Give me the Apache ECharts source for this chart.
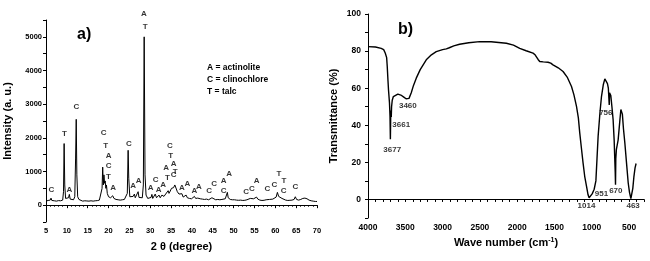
<!DOCTYPE html>
<html>
<head>
<meta charset="utf-8">
<script src="https://cdn.jsdelivr.net/npm/echarts@6/dist/echarts.min.js"></script>
<style>
  html, body { margin: 0; background: #fff; }
  #chart { width: 650px; height: 261px; }
</style>
</head>
<body>
<div id="chart"></div>
<script>
// a) XRD pattern
const xrdAngle = [
  5.0, 5.5, 6.0, 6.2, 6.4, 7.0, 7.5, 8.0, 8.5, 9.0, 9.2, 9.35, 9.5, 9.7, 10.0, 10.4, 10.6, 10.8,
  11.2, 11.6, 11.9, 12.1, 12.25, 12.4, 12.6, 12.9, 13.3, 13.8, 14.3, 14.8, 15.3, 15.8, 16.3, 16.8,
  17.3, 17.8, 18.2, 18.45, 18.6, 18.75, 18.9, 19.05, 19.2, 19.35, 19.5, 19.7, 20.0, 20.5, 21.0,
  21.3, 21.8, 22.3, 22.8, 23.3, 23.8, 24.2, 24.5, 24.7, 24.85, 25.1, 25.5, 25.9, 26.2, 26.4, 26.8,
  27.1, 27.3, 27.7, 28.1, 28.35, 28.55, 28.75, 29.0, 29.4, 29.8, 30.2, 30.4, 30.6, 31.0, 31.2,
  31.5, 31.9, 32.1, 32.4, 32.8, 33.0, 33.3, 33.7, 34.0, 34.3, 34.5, 34.8, 35.1, 35.4, 35.6, 35.9,
  36.2, 36.5, 36.9, 37.3, 37.6, 37.9, 38.3, 38.6, 38.9, 39.4, 39.9, 40.3, 40.6, 40.9, 41.4, 41.7,
  42.0, 42.5, 43.0, 43.5, 44.0, 44.4, 44.8, 45.2, 45.7, 46.2, 46.7, 47.2, 47.6, 48.0, 48.3, 48.5,
  48.7, 49.2, 49.7, 50.2, 50.7, 51.2, 51.7, 52.2, 52.7, 53.2, 53.6, 54.0, 54.4, 54.8, 55.2, 55.5,
  55.8, 56.3, 56.8, 57.3, 57.8, 58.2, 58.6, 59.0, 59.4, 59.8, 60.2, 60.5, 60.8, 61.2, 61.6, 62.0,
  62.5, 63.0, 63.5, 64.0, 64.5, 64.8, 65.1, 65.6, 66.1, 66.6, 67.1, 67.6, 68.1, 68.6, 69.1, 69.6, 70.0
];
const xrdIntensity = [
  120, 140, 150, 210, 140, 130, 120, 135, 130, 150, 400, 1830, 600, 200, 160, 220, 320, 180,
  150, 160, 250, 1400, 2550, 900, 250, 170, 140, 120, 130, 125, 120, 130, 120, 130,
  135, 150, 200, 500, 1130, 600, 900, 650, 720, 500, 600, 350, 250, 220, 280,
  200, 170, 160, 150, 160, 170, 200, 350, 1630, 800, 250, 200, 260, 330, 220, 210,
  400, 230, 200, 220, 600, 5000, 900, 300, 200, 190, 230, 320, 200, 240, 330,
  220, 250, 300, 220, 300, 350, 260, 330, 300, 430, 350, 420, 500, 450, 520, 600,
  560, 400, 330, 280, 340, 240, 230, 300, 220, 200, 190, 200, 260, 200, 210, 250,
  190, 180, 170, 180, 160, 190, 220, 180, 160, 170, 160, 170, 200, 190, 220, 380,
  220, 170, 160, 160, 150, 145, 150, 140, 145, 160, 180, 200, 220, 190, 200, 240,
  180, 150, 140, 145, 160, 190, 170, 200, 180, 210, 240, 380, 260, 230, 200, 180,
  150, 140, 145, 150, 170, 250, 170, 150, 170, 200, 210, 190, 150, 130, 120, 110, 110
];
const phaseLabel = [
  "C", "T", "A", "C", "C", "T", "A", "C", "T", "A", "C", "A", "A", "A", "T",
  "A", "C", "A", "A", "A", "T", "C", "T", "A", "C", "T", "A", "A", "A", "A",
  "C", "C", "A", "C", "A", "C", "C", "A", "C", "C", "T", "T", "C", "C"
];
const phaseAngle = [
  6.3, 9.4, 10.6, 12.3, 18.8, 19.3, 20.0, 20.0, 20.0, 21.1, 24.9, 25.9, 27.2, 28.5, 28.8,
  30.1, 31.3, 32.0, 33.1, 33.8, 34.1, 34.7, 34.9, 35.6, 35.6, 36.0, 37.6, 38.9, 40.6, 41.7,
  44.1, 45.3, 47.6, 47.6, 48.9, 53.0, 54.4, 55.5, 58.1, 59.8, 60.9, 62.1, 62.0, 64.8
];
const phaseHeight = [
  446, 2134, 446, 2929, 2155, 1777, 1479, 1161, 833, 518, 1815, 565, 714, 5675, 5310,
  518, 744, 446, 595, 1113, 804, 1777, 1458, 1220, 893, 982, 518, 637, 438, 548,
  417, 637, 714, 438, 934, 387, 488, 714, 488, 595, 943, 735, 438, 557
];
const xrdYTicks = [0, 1000, 2000, 3000, 4000, 5000];
const phaseLegend = ["A = actinolite", "C = clinochlore", "T = talc"];

// b) FTIR spectrum
const ftirWave = [
  4000, 3900, 3823, 3790, 3769, 3750, 3742, 3732, 3725, 3712, 3705, 3700, 3696, 3692, 3688, 3684,
  3675, 3660, 3640, 3600, 3560, 3520, 3490, 3470, 3450, 3420, 3390, 3353, 3300, 3219, 3150, 3085,
  3000, 2950, 2935, 2925, 2910, 2850, 2772, 2650, 2503, 2350, 2145, 2050, 1966, 1880, 1788, 1760,
  1742, 1720, 1698, 1650, 1587, 1550, 1520, 1450, 1385, 1330, 1272, 1240, 1205, 1180, 1161, 1140,
  1117, 1095, 1071, 1050, 1036, 1015, 995, 983, 968, 958, 945, 930, 915, 890, 870, 845, 825, 805,
  790, 778, 770, 766, 762, 755, 745, 730, 714, 700, 692, 686, 682, 678, 670, 660, 647, 625, 610,
  601, 590, 575, 557, 535, 512, 495, 476, 463, 450, 436, 420, 406
];
const ftirTrans = [
  82.4, 82.2, 81.5, 80.8, 79.0, 76.5, 71.7, 64, 59, 52, 45, 32.5, 44, 48, 44.5, 50,
  53.5, 55.5, 56.5, 56.8, 56.3, 55.2, 54.3, 54, 54.5, 57.5, 61.5, 65.4, 70, 75.3, 78, 79.7,
  80.8, 81.2, 80.6, 81.3, 81.8, 82.8, 83.7, 84.5, 85.1, 85, 84.2, 83.2, 81.5, 80.2, 78.9, 78,
  77, 75.5, 74.4, 74.2, 74, 73.5, 72.6, 71, 69, 66, 60.9, 56.5, 50.2, 44, 35.8, 28,
  19.7, 12.5, 7.2, 2.5, 0.9, 1.5, 3, 3.6, 5.5, 6.3, 10, 22, 34, 47, 55.5, 62, 65, 64.5,
  62.5, 60, 59, 51, 57.5, 58, 56, 50, 43, 32, 22, 15, 8, 22, 27, 28, 32, 42, 48.5,
  49.3, 46, 38, 30.6, 20, 9, 4, 0.4, 1, 6, 12, 17, 19.4
];
const bandLabel = ["3677", "3661", "3460", "756", "1014", "951", "670", "463"];
const bandWave = [3675, 3554, 3466, 812, 1071, 870, 678, 446];
const bandTrans = [26.9, 40, 50.5, 46.9, -3.2, 3.2, 4.5, -3.6];
const ftirXTicks = [4000, 3500, 3000, 2500, 2000, 1500, 1000, 500];
const ftirYTicks = [0, 20, 40, 60, 80, 100];

const FONT = "'Liberation Sans', Arial, sans-serif";
const chart = echarts.init(document.getElementById("chart"), null, { renderer: "canvas" });

const lineAxis = { show: true, lineStyle: { color: "#000", width: 1 } };
const nameStyle = { fontFamily: FONT, fontWeight: "bold", fontSize: 11, color: "#000" };
const tickLabel = (size) => ({ fontFamily: FONT, fontWeight: "bold", fontSize: size, color: "#000" });

const textLabels = (xs, ys, texts) => xs.map((x, i) => [x, ys[i], texts[i]]);

const option = {
  animation: false,
  backgroundColor: "#fff",
  title: [
    { text: "a)", left: 72, top: 22, textStyle: { fontFamily: FONT, fontWeight: "bold", fontSize: 16, color: "#000" } },
    { text: "b)", left: 393, top: 17, textStyle: { fontFamily: FONT, fontWeight: "bold", fontSize: 16, color: "#000" } },
  ],
  graphic: [
    {
      type: "text",
      left: 207,
      top: 62,
      style: {
        text: phaseLegend.join("\n"),
        font: "bold 8.5px " + FONT,
        lineHeight: 12,
        fill: "#000",
      },
    },
  ],
  grid: [
    { left: 46, right: 333, top: 20, bottom: 39 },
    { left: 368, right: 6, top: 14, bottom: 43 },
  ],
  xAxis: [
    {
      gridIndex: 0,
      type: "value",
      min: 5,
      max: 70,
      interval: 5,
      name: "2 θ (degree)",
      nameLocation: "middle",
      nameGap: 19,
      nameTextStyle: nameStyle,
      axisLine: lineAxis,
      axisTick: { show: true, length: 3, lineStyle: { color: "#000" } },
      minorTick: { show: true, splitNumber: 5, length: 1.5, lineStyle: { color: "#000" } },
      axisLabel: { ...tickLabel(7.5), margin: 5 },
      splitLine: { show: false },
    },
    {
      gridIndex: 1,
      type: "value",
      inverse: true,
      min: 300,
      max: 4000,
      interval: 100,
      name: "Wave number (cm{sup|-1})",
      nameLocation: "middle",
      nameGap: 17,
      nameTextStyle: {
        ...nameStyle,
        rich: { sup: { fontFamily: FONT, fontWeight: "bold", fontSize: 7, verticalAlign: "top", padding: [0, 0, 6, 0] } },
      },
      axisLine: lineAxis,
      axisTick: { show: true, length: 2.5, lineStyle: { color: "#000" } },
      axisLabel: {
        ...tickLabel(8.5),
        margin: 5,
        formatter: (v) => (ftirXTicks.includes(v) ? String(v) : ""),
      },
      splitLine: { show: false },
    },
  ],
  yAxis: [
    {
      gridIndex: 0,
      type: "value",
      min: -500,
      max: 5500,
      interval: 500,
      name: "Intensity (a. u.)",
      nameLocation: "middle",
      nameGap: 33,
      nameTextStyle: nameStyle,
      axisLine: lineAxis,
      axisTick: { show: true, length: 3, lineStyle: { color: "#000" } },
      axisLabel: {
        ...tickLabel(7.5),
        margin: 4,
        formatter: (v) => (xrdYTicks.includes(v) ? String(v) : ""),
      },
      splitLine: { show: false },
    },
    {
      gridIndex: 1,
      type: "value",
      min: -10,
      max: 100,
      interval: 10,
      name: "Transmittance (%)",
      nameLocation: "middle",
      nameGap: 29,
      nameTextStyle: nameStyle,
      axisLine: lineAxis,
      axisTick: { show: true, length: 3, lineStyle: { color: "#000" } },
      axisLabel: {
        ...tickLabel(8.5),
        margin: 7,
        formatter: (v) => (ftirYTicks.includes(v) ? String(v) : ""),
      },
      splitLine: { show: false },
    },
  ],
  series: [
    {
      type: "line",
      xAxisIndex: 0,
      yAxisIndex: 0,
      data: xrdAngle.map((a, i) => [a, xrdIntensity[i]]),
      showSymbol: false,
      lineStyle: { color: "#000", width: 1 },
      silent: true,
    },
    {
      type: "scatter",
      xAxisIndex: 0,
      yAxisIndex: 0,
      clip: false,
      silent: true,
      symbolSize: 1,
      itemStyle: { color: "rgba(0,0,0,0)" },
      data: textLabels(phaseAngle, phaseHeight, phaseLabel),
      label: {
        show: true,
        position: "inside",
        formatter: (p) => p.value[2],
        fontFamily: FONT,
        fontWeight: "bold",
        fontSize: 8,
        color: "#000",
      },
    },
    {
      type: "line",
      xAxisIndex: 1,
      yAxisIndex: 1,
      data: ftirWave.map((w, i) => [w, ftirTrans[i]]),
      showSymbol: false,
      lineStyle: { color: "#000", width: 1.4 },
      silent: true,
    },
    {
      type: "scatter",
      xAxisIndex: 1,
      yAxisIndex: 1,
      clip: false,
      silent: true,
      symbolSize: 1,
      itemStyle: { color: "rgba(0,0,0,0)" },
      data: textLabels(bandWave, bandTrans, bandLabel),
      label: {
        show: true,
        position: "inside",
        formatter: (p) => p.value[2],
        fontFamily: FONT,
        fontWeight: "bold",
        fontSize: 8,
        color: "#000",
      },
    },
  ],
};

chart.setOption(option);
</script>
</body>
</html>
